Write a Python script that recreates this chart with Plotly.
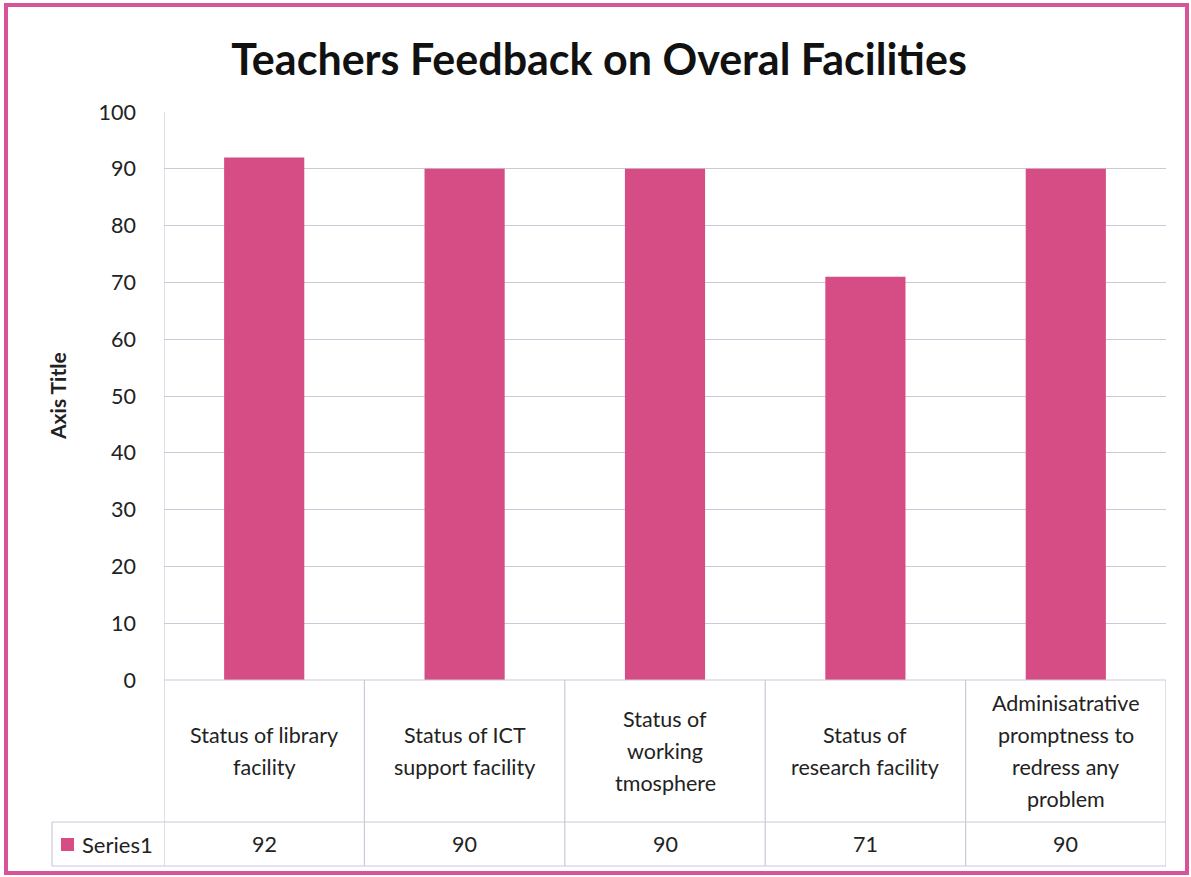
import plotly.graph_objects as go

categories = [
    "Status of library<br>facility",
    "Status of ICT<br>support facility",
    "Status of<br>working<br>tmosphere",
    "Status of<br>research facility",
    "Adminisatrative<br>promptness to<br>redress any<br>problem",
]
values = [92, 90, 90, 71, 90]
series_name = "Series1"
y_ticks = list(range(0, 101, 10))

BAR = "#D64C84"
GRID = "#CCC8D8"
TXT = "#222222"
FONT = "Lato"
FS = 21.5
LINE_H = 32

W, H = 1191, 877
L, R, T, B = 164, 25, 112, 197
pw, ph = W - L - R, H - T - B

def px_to_py(py):
    return (H - B - py) / ph

def px_to_px(px):
    return (px - L) / pw

xs = list(range(len(categories)))

fig = go.Figure()
fig.add_trace(go.Bar(x=xs, y=values, marker=dict(color=BAR, line=dict(width=0)),
                     width=0.4, name=series_name, showlegend=False))

shapes = []
ann = []
row1_bot = px_to_py(822)
row2_bot = px_to_py(866)
for yb, x0p in [(0, 0.0), (row1_bot, px_to_px(52)), (row2_bot, px_to_px(52))]:
    shapes.append(dict(type="line", xref="paper", yref="paper", x0=x0p, x1=1.0, y0=yb, y1=yb,
                       line=dict(color=GRID, width=1.2)))
for i in range(len(categories) + 1):
    shapes.append(dict(type="line", xref="x", yref="paper", x0=i - 0.5, x1=i - 0.5,
                       y0=0 if i else 1.0, y1=row2_bot, line=dict(color=GRID, width=1.2)))
shapes.append(dict(type="line", xref="paper", yref="paper", x0=px_to_px(52), x1=px_to_px(52),
                   y0=row1_bot, y1=row2_bot, line=dict(color=GRID, width=1.2)))
shapes.append(dict(type="rect", xref="paper", yref="paper",
                   x0=px_to_px(61), x1=px_to_px(74), y0=px_to_py(851), y1=px_to_py(838),
                   fillcolor=BAR, line=dict(width=0)))
shapes.append(dict(type="rect", xref="paper", yref="paper",
                   x0=px_to_px(6), x1=px_to_px(1187), y0=px_to_py(873), y1=px_to_py(5),
                   line=dict(color="#D9539A", width=4), layer="above"))

for i, (c, v) in enumerate(zip(categories, values)):
    lines = c.split("<br>")
    n = len(lines)
    for k, ln in enumerate(lines):
        ypx = 751 + (k - (n - 1) / 2) * LINE_H
        ann.append(dict(x=i, y=px_to_py(ypx), xref="x", yref="paper", text=ln, showarrow=False,
                        font=dict(family=FONT, size=FS, color=TXT), align="center",
                        xanchor="center", yanchor="middle"))
    ann.append(dict(x=i, y=px_to_py(844), xref="x", yref="paper", text=str(v), showarrow=False,
                    font=dict(family=FONT, size=FS, color=TXT), xanchor="center", yanchor="middle"))
ann.append(dict(x=px_to_px(80), y=px_to_py(844), xref="paper", yref="paper", text=series_name,
                showarrow=False, font=dict(family=FONT, size=FS + 0.5, color=TXT),
                xanchor="left", yanchor="middle"))
ann.append(dict(x=px_to_px(57), y=px_to_py(396), xref="paper", yref="paper", text="<b>Axis Title</b>",
                showarrow=False, textangle=-90, font=dict(family=FONT, size=21, color=TXT),
                xanchor="center", yanchor="middle"))

fig.update_layout(
    width=W, height=H,
    margin=dict(l=L, r=R, t=T, b=B),
    paper_bgcolor="white", plot_bgcolor="white",
    title=dict(text="<b>Teachers Feedback on Overal Facilities</b>", x=0.503, xanchor="center",
               y=1 - 60 / H, yanchor="middle", font=dict(family=FONT, size=43, color="#111111")),
    xaxis=dict(range=[-0.5, len(categories) - 0.5], showticklabels=False, showgrid=False,
               zeroline=False, showline=False, fixedrange=True),
    yaxis=dict(range=[0, 100], tickvals=y_ticks, ticktext=[str(t) for t in y_ticks],
               showgrid=True, gridcolor=GRID, gridwidth=1.2, zeroline=False, showline=False,
               ticks="", ticklabelstandoff=27,
               tickfont=dict(family=FONT, size=FS, color=TXT)),
    shapes=shapes, annotations=ann, bargap=0.6,
)
fig.write_html("out.html", config={"displayModeBar": False},
               post_script="document.body.style.margin='0';document.body.style.padding='0';")
